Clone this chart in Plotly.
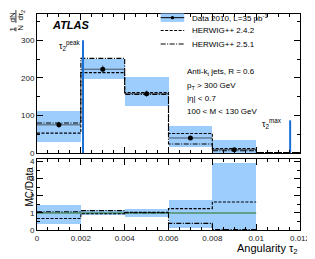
import plotly.graph_objects as go
from plotly.subplots import make_subplots

# ---------------- data ----------------
bin_edges = [0.0, 0.002, 0.004, 0.006, 0.008, 0.010, 0.012]
data_vals = [75, 223, 158, 40, 9]
data_err = [8, 10, 8, 5, 3]
band_lo = [28, 196, 125, 17, 0]
band_hi = [112, 249, 202, 72, 34]
herwig242 = [53, 214, 161, 52, 12, 1]
herwig251 = [80, 252, 156, 24, 6, 1]

ratio_band_lo = [0.33, 0.86, 0.74, 0.10, 0.0]
ratio_band_hi = [1.45, 1.17, 1.25, 1.77, 3.89]
ratio242 = [0.67, 0.95, 1.03, 1.25, 1.64]
ratio251 = [1.07, 1.13, 1.01, 0.39, 0.03]

tau_peak = 0.0021
tau_peak_h = 300
tau_max = 0.01155
tau_max_h = 87

x_ticks = [0, 0.002, 0.004, 0.006, 0.008, 0.01, 0.012]
x_ticklabels = ["0", "0.002", "0.004", "0.006", "0.008", "0.01", "0.012"]

# ---------------- geometry ----------------
# the page body has an 8px margin, so the figure is drawn 8px smaller
OFF = 8
W, H = 315 - OFF, 259 - OFF
ML, MR, MT, MB = 37 - OFF, 10, 12 - OFF, 29
PW, PH = W - ML - MR, H - MT - MB

def px(x):
    return (x - OFF - ML) / PW

def py(y):
    return (H - MB - (y - OFF)) / PH

BLUE_BAND = "#9dcdfc"
BLUE_LINE = "#1a6fd6"
GREEN = "#5f9f8c"
FONT = "Liberation Sans"

nb = len(data_vals)
centers = [(bin_edges[i] + bin_edges[i + 1]) / 2 for i in range(len(bin_edges) - 1)]
bw = [bin_edges[i + 1] - bin_edges[i] for i in range(len(bin_edges) - 1)]

fig = make_subplots(rows=2, cols=1, shared_xaxes=False, vertical_spacing=0.0)

# top: data uncertainty band
fig.add_trace(go.Bar(x=centers[:nb], y=[h - l for h, l in zip(band_hi, band_lo)],
                     base=band_lo, width=bw[:nb], marker_color=BLUE_BAND,
                     marker_line_width=0, showlegend=False), row=1, col=1)

def step(vals, edges):
    return list(edges[:len(vals) + 1]), list(vals) + [vals[-1]]

DASH = "3px,1.5px"
DASHDOT = "5px,1.5px,1px,1.5px"

sx, sy = step(herwig242, bin_edges)
fig.add_trace(go.Scatter(x=sx, y=sy, mode="lines", line_shape="hv",
                         line=dict(color="black", width=1.1, dash=DASH),
                         showlegend=False), row=1, col=1)
sx, sy = step(herwig251, bin_edges)
fig.add_trace(go.Scatter(x=sx, y=sy, mode="lines", line_shape="hv",
                         line=dict(color="black", width=1.1, dash=DASHDOT),
                         showlegend=False), row=1, col=1)

# data points
fig.add_trace(go.Scatter(x=centers[:nb], y=data_vals, mode="markers",
                         marker=dict(color="black", size=5),
                         error_y=dict(type="data", array=data_err, color="#333", thickness=0.8, width=0),
                         error_x=dict(type="data", array=[w / 2 for w in bw[:nb]], color="#333",
                                      thickness=0.8, width=0),
                         showlegend=False), row=1, col=1)

# tau lines
fig.add_trace(go.Scatter(x=[tau_peak, tau_peak], y=[0, tau_peak_h], mode="lines",
                         line=dict(color=BLUE_LINE, width=2), showlegend=False), row=1, col=1)
fig.add_trace(go.Scatter(x=[tau_max, tau_max], y=[0, tau_max_h], mode="lines",
                         line=dict(color=BLUE_LINE, width=2), showlegend=False), row=1, col=1)

# ratio panel
fig.add_trace(go.Bar(x=centers[:nb], y=[h - l for h, l in zip(ratio_band_hi, ratio_band_lo)],
                     base=ratio_band_lo, width=bw[:nb], marker_color=BLUE_BAND,
                     marker_line_width=0, showlegend=False), row=2, col=1)
fig.add_trace(go.Scatter(x=[bin_edges[0], bin_edges[nb]], y=[1, 1], mode="lines",
                         line=dict(color=GREEN, width=2), showlegend=False), row=2, col=1)
sx, sy = step(ratio242, bin_edges)
fig.add_trace(go.Scatter(x=sx, y=sy, mode="lines", line_shape="hv",
                         line=dict(color="black", width=1.1, dash=DASH),
                         showlegend=False), row=2, col=1)
sx, sy = step(ratio251, bin_edges)
fig.add_trace(go.Scatter(x=sx, y=sy, mode="lines", line_shape="hv",
                         line=dict(color="black", width=1.1, dash=DASHDOT),
                         showlegend=False), row=2, col=1)

axis_common = dict(showline=True, linecolor="black", linewidth=1, mirror="ticks",
                   ticks="inside", ticklen=6, tickcolor="black", showgrid=False,
                   zeroline=False, tickfont=dict(family=FONT, size=8, color="#222"),
                   ticklabeloverflow="allow")

fig.update_xaxes(range=[0, 0.012], tickvals=x_ticks, ticktext=x_ticklabels,
                 minor=dict(dtick=0.0005, ticklen=3, ticks="inside", tickcolor="black"),
                 **axis_common)
fig.update_xaxes(showticklabels=False, row=1, col=1)
fig.update_yaxes(**axis_common)
fig.update_yaxes(range=[0, 370], tickvals=[0, 100, 200, 300],
                 minor=dict(dtick=50, ticklen=3, ticks="inside", tickcolor="black"), row=1, col=1)
fig.update_yaxes(range=[0, 4.15], tickvals=[0, 1, 2, 3, 4],
                 minor=dict(dtick=0.5, ticklen=3, ticks="inside", tickcolor="black"), row=2, col=1)

fig.update_layout(
    width=W, height=H, margin=dict(l=ML, r=MR, t=MT, b=MB),
    paper_bgcolor="white", plot_bgcolor="white", barmode="overlay", bargap=0,
    xaxis=dict(domain=[0, 1]), xaxis2=dict(domain=[0, 1]),
    yaxis=dict(domain=[py(152.3), 1.0]), yaxis2=dict(domain=[0, py(158.3)]),
    font=dict(family=FONT, color="black"),
)

ann = []
shapes = []

def text(x, y, t, size=8, xanchor="left", **kw):
    ann.append(dict(x=px(x), y=py(y), xref="paper", yref="paper", text=t, showarrow=False,
                    xanchor=xanchor, yanchor="middle", font=dict(family=FONT, size=size, color="black"), **kw))

# legend
shapes.append(dict(type="rect", xref="paper", yref="paper", x0=px(163), x1=px(187),
                   y0=py(11.5), y1=py(20), fillcolor=BLUE_BAND, line_width=0))
shapes.append(dict(type="line", xref="paper", yref="paper", x0=px(163), x1=px(187),
                   y0=py(15.7), y1=py(15.7), line=dict(color="black", width=1)))
shapes.append(dict(type="circle", xref="paper", yref="paper", x0=px(173.3), x1=px(176.7),
                   y0=py(14), y1=py(17.4), fillcolor="black", line_width=0))
shapes.append(dict(type="line", xref="paper", yref="paper", x0=px(163), x1=px(187),
                   y0=py(28.7), y1=py(28.7), line=dict(color="black", width=1.1, dash=DASH)))
shapes.append(dict(type="line", xref="paper", yref="paper", x0=px(163), x1=px(187),
                   y0=py(42.3), y1=py(42.3), line=dict(color="black", width=1.1, dash=DASHDOT)))
text(193, 15.7, "Data 2010, L=35 pb<sup>-1</sup>")
text(193, 28.7, "HERWIG++ 2.4.2")
text(193, 42.3, "HERWIG++ 2.5.1")

text(188, 70.7, "Anti-k<sub>t</sub> jets, R = 0.6")
text(188, 84.3, "p<sub>T</sub> &gt; 300 GeV")
text(188, 97.7, "|η| &lt; 0.7")
text(188, 110.7, "100 &lt; M &lt; 130 GeV")

text(264, 123, "τ<sub>2</sub><sup>max</sup>", size=9)
text(57, 44, "τ<sub>2</sub><sup>peak</sup>", size=9)

ann.append(dict(x=px(50), y=py(23), xref="paper", yref="paper", text="<b><i>ATLAS</i></b>",
                showarrow=False, xanchor="left", yanchor="middle",
                font=dict(family=FONT, size=11, color="black")))

# axis titles
ann.append(dict(x=px(305), y=py(249), xref="paper", yref="paper", text="Angularity τ<sub>2</sub>",
                showarrow=False, xanchor="right", yanchor="middle",
                font=dict(family=FONT, size=11, color="black")))
ann.append(dict(x=px(29), y=py(186), xref="paper", yref="paper", text="MC/Data", textangle=-90,
                showarrow=False, xanchor="center", yanchor="middle",
                font=dict(family=FONT, size=10, color="black")))
# y title of top panel: 1/N dN/dtau2 as a rotated fraction
ann.append(dict(x=px(12), y=py(20), xref="paper", yref="paper", text="1  dN", textangle=-90,
                showarrow=False, xanchor="center", yanchor="middle",
                font=dict(family=FONT, size=8, color="black")))
ann.append(dict(x=px(20.5), y=py(18), xref="paper", yref="paper", text="N  dτ<sub>2</sub>", textangle=-90,
                showarrow=False, xanchor="center", yanchor="middle",
                font=dict(family=FONT, size=8, color="black")))
shapes.append(dict(type="line", xref="paper", yref="paper", x0=px(15.5), x1=px(15.5),
                   y0=py(25.5), y1=py(29.5), line=dict(color="black", width=0.8)))
shapes.append(dict(type="line", xref="paper", yref="paper", x0=px(15.5), x1=px(15.5),
                   y0=py(8), y1=py(21), line=dict(color="black", width=0.8)))

fig.update_layout(annotations=ann, shapes=shapes)
fig.write_html("out.html")
